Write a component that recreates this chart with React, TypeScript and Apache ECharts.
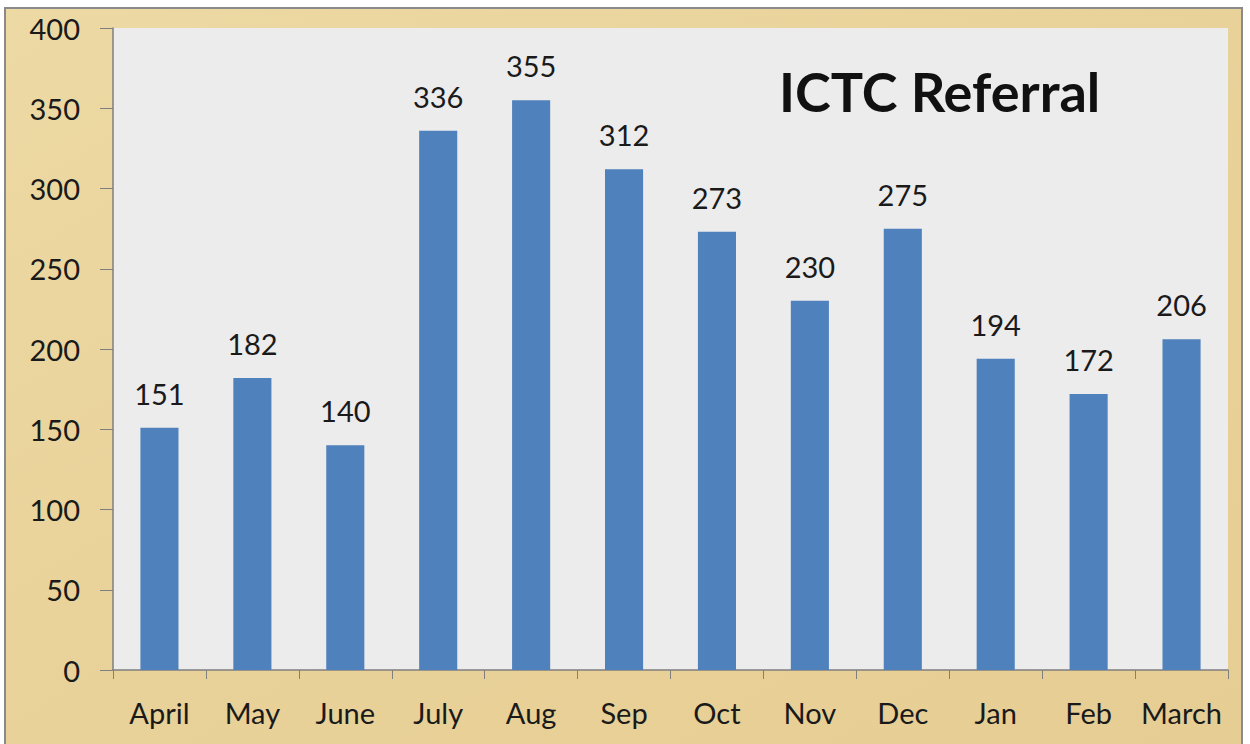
import React, { useEffect, useRef } from "react";
import * as echarts from "echarts";

const categories = ["April", "May", "June", "July", "Aug", "Sep", "Oct", "Nov", "Dec", "Jan", "Feb", "March"];
const referrals = [151, 182, 140, 336, 355, 312, 273, 230, 275, 194, 172, 206];
const yTicks = { min: 0, max: 400, interval: 50 };
const titleText = "ICTC Referral";

export default function App() {
  const ref = useRef<HTMLDivElement>(null);
  useEffect(() => {
    document.body.style.margin = "0";
    const chart = echarts.init(ref.current!, null, { renderer: "svg" });
    const font = "Lato, 'Open Sans', sans-serif";
    chart.setOption({
      animation: false,
      backgroundColor: "transparent",
      graphic: [
        {
          type: "rect",
          z: -10,
          shape: { x: 5, y: 8, width: 1237, height: 740 },
          style: {
            fill: new echarts.graphic.LinearGradient(0, 0, 1, 1, [
              { offset: 0, color: "#edd9a4" },
              { offset: 0.5, color: "#e9d299" },
              { offset: 1, color: "#e6cd94" },
            ]),
            stroke: "#8a8a8a",
            lineWidth: 2,
          },
          silent: true,
        },
        {
          type: "text",
          left: 779,
          top: 64,
          z: 10,
          style: {
            text: titleText,
            font: `bold 54px ${font}`,
            fill: "#111",
          },
        },
      ],
      grid: {
        left: 113,
        right: 22,
        top: 28,
        bottom: 74,
        show: true,
        backgroundColor: "#ececec",
        borderWidth: 0,
      },
      xAxis: {
        type: "category",
        data: categories,
        axisLine: { show: true, lineStyle: { color: "#7f7f7f", width: 1.5 } },
        axisTick: { show: true, length: 9, lineStyle: { color: "#7f7f7f" } },
        axisLabel: { color: "#1a1a1a", fontSize: 29, fontFamily: font, margin: 28, interval: 0 },
      },
      yAxis: {
        type: "value",
        min: yTicks.min,
        max: yTicks.max,
        interval: yTicks.interval,
        axisLine: { show: true, lineStyle: { color: "#7f7f7f", width: 1.5 } },
        axisTick: { show: true, length: 13, lineStyle: { color: "#7f7f7f" } },
        splitLine: { show: false },
        axisLabel: { color: "#1a1a1a", fontSize: 29, fontFamily: font, margin: 33 },
      },
      series: [
        {
          type: "bar",
          data: referrals,
          barWidth: "41%",
          itemStyle: { color: "#4f81bd" },
          label: {
            show: true,
            position: "top",
            distance: 20,
            color: "#1a1a1a",
            fontSize: 29,
            fontFamily: font,
          },
        },
      ],
    });
    return () => chart.dispose();
  }, []);
  return <div ref={ref} style={{ position: "absolute", left: 0, top: 0, width: 1250, height: 744 }} />;
}
